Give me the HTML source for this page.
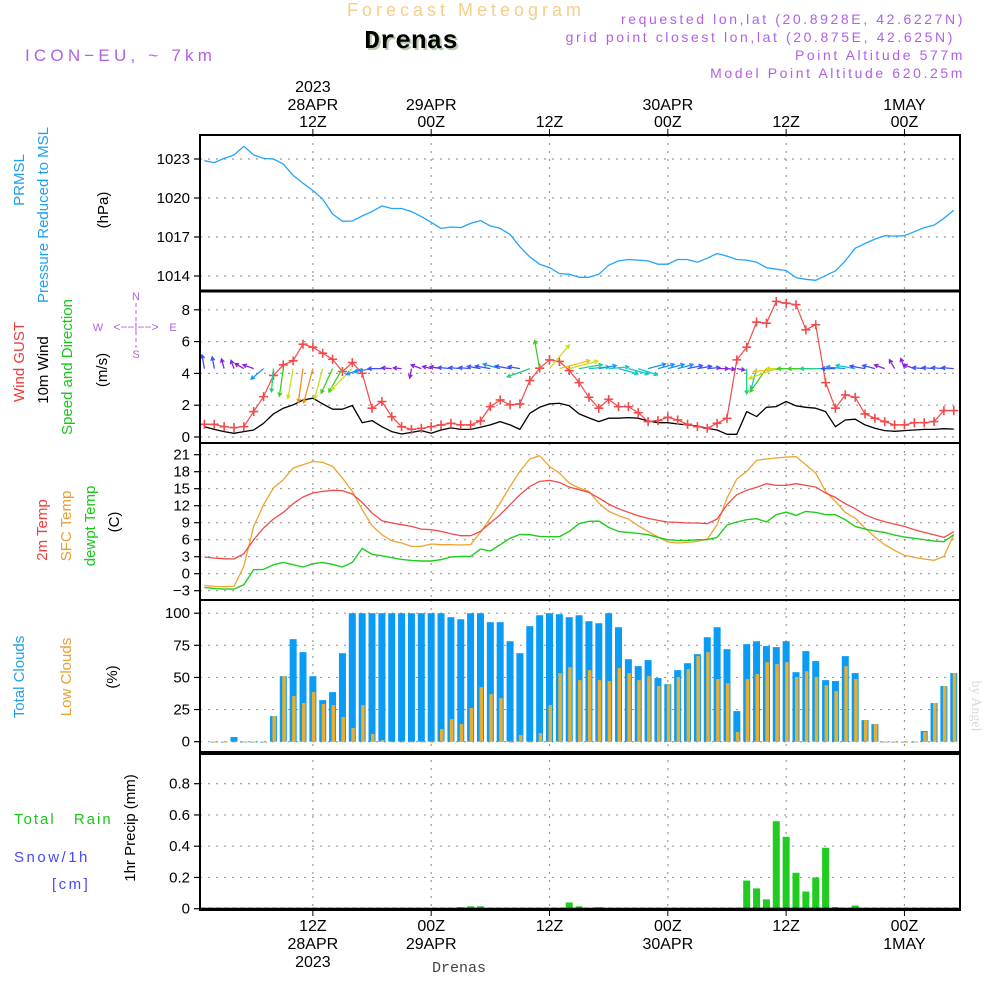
<!DOCTYPE html>
<html><head><meta charset="utf-8"><style>
html,body{margin:0;padding:0;background:#fff;}
svg{display:block;font-family:"Liberation Sans",sans-serif;}
</style></head><body>
<svg id="chart" width="1000" height="1000" viewBox="0 0 1000 1000" xmlns="http://www.w3.org/2000/svg">
<rect x="0" y="0" width="1000" height="1000" fill="#fff"/>
<g id="header">
<text x="466" y="16" text-anchor="middle" font-size="18" fill="#f3cf8a" letter-spacing="4">Forecast Meteogram</text>
<text x="411" y="48" text-anchor="middle" font-size="26" font-weight="bold" font-family="Liberation Mono,monospace" fill="#b8ccb0" transform="translate(2,2)">Drenas</text>
<text x="411" y="48" text-anchor="middle" font-size="26" font-weight="bold" font-family="Liberation Mono,monospace" fill="#000">Drenas</text>
<text x="25" y="61" font-size="17" fill="#b060e8" letter-spacing="4.2">ICON−EU, ~ 7km</text>
<g font-size="14" fill="#b060e8" text-anchor="end" letter-spacing="2.6">
<text x="965" y="24">requested lon,lat (20.8928E, 42.6227N)</text>
<text x="955" y="42">grid point closest lon,lat (20.875E, 42.625N)</text>
<text x="965" y="60">Point Altitude 577m</text>
<text x="965" y="78">Model Point Altitude 620.25m</text>
</g>
</g>
<g id="grid"></g>
<g id="marks"></g>
<g id="frames"></g>
<g id="labels" font-size="15">
<text transform="translate(24,180) rotate(-90)" text-anchor="middle" fill="#1ea0f0">PRMSL</text>
<text transform="translate(48,215) rotate(-90)" text-anchor="middle" fill="#1ea0f0">Pressure Reduced to MSL</text>
<text transform="translate(108,210) rotate(-90)" text-anchor="middle" fill="#000">(hPa)</text>
<text transform="translate(24,362) rotate(-90)" text-anchor="middle" fill="#f03c3c">Wind GUST</text>
<text transform="translate(48,370) rotate(-90)" text-anchor="middle" fill="#000">10m Wind</text>
<text transform="translate(72,367) rotate(-90)" text-anchor="middle" fill="#18c818">Speed and Direction</text>
<text transform="translate(107,370) rotate(-90)" text-anchor="middle" fill="#000">(m/s)</text>
<g fill="#b060e8" font-size="11" text-anchor="middle">
<text x="136" y="300">N</text><text x="98" y="331">W</text><text x="173" y="331">E</text><text x="136" y="358">S</text>
<text x="136" y="331" font-size="12">&lt;−−|−−&gt;</text>
<line x1="136" y1="303" x2="136" y2="348" stroke="#b060e8" stroke-dasharray="4,3"/>
</g>
<text transform="translate(47,530) rotate(-90)" text-anchor="middle" fill="#f03c3c">2m Temp</text>
<text transform="translate(71,526) rotate(-90)" text-anchor="middle" fill="#e8a030">SFC Temp</text>
<text transform="translate(95,526) rotate(-90)" text-anchor="middle" fill="#18c818">dewpt Temp</text>
<text transform="translate(119,522) rotate(-90)" text-anchor="middle" fill="#000">(C)</text>
<text transform="translate(24,677) rotate(-90)" text-anchor="middle" fill="#1ea0f0">Total Clouds</text>
<text transform="translate(71,677) rotate(-90)" text-anchor="middle" fill="#e8a030">Low Clouds</text>
<text transform="translate(117,677) rotate(-90)" text-anchor="middle" fill="#000">(%)</text>
<text x="14" y="824" fill="#18c818" letter-spacing="2" word-spacing="12">Total Rain</text>
<text x="14" y="862" fill="#4848ff" letter-spacing="2.5">Snow/1h</text>
<text x="52" y="889" fill="#4848ff" letter-spacing="2.5">[cm]</text>
<text transform="translate(135,828) rotate(-90)" text-anchor="middle" fill="#000">1hr Precip (mm)</text>
<text transform="translate(972,706) rotate(90)" text-anchor="middle" fill="#d8d8d8" font-family="Liberation Serif,serif" font-size="14">by Angel</text>
<text x="459" y="972" text-anchor="middle" fill="#444" font-family="Liberation Mono,monospace" font-size="15">Drenas</text>
</g>
</svg>
<script>
// ---- data (hourly, index 0 = 01Z 28APR 2023) ----
const timeTicks = [11, 23, 35, 47, 59, 71];
const topDate = ["28APR", "29APR", "", "30APR", "", "1MAY"];
const topHour = ["12Z", "00Z", "12Z", "00Z", "12Z", "00Z"];
const pressureTicks = [1014, 1017, 1020, 1023];
const windTicks = [0, 2, 4, 6, 8];
const tempTicks = [-3, 0, 3, 6, 9, 12, 15, 18, 21];
const cloudTicks = [0, 25, 50, 75, 100];
const precipTicks = [0, 0.2, 0.4, 0.6, 0.8];
const pressure = [1022.87,1022.72,1023.05,1023.31,1023.98,1023.31,1023.05,1023.0,1022.61,1021.74,1021.14,1020.58,1019.91,1018.77,1018.21,1018.23,1018.62,1018.95,1019.39,1019.19,1019.19,1018.95,1018.57,1018.13,1017.66,1017.77,1017.72,1018.05,1018.26,1017.85,1017.66,1017.2,1016.25,1015.47,1014.91,1014.65,1014.19,1014.13,1013.9,1013.9,1014.13,1014.83,1015.16,1015.27,1015.22,1015.16,1014.91,1014.91,1015.27,1015.27,1015.06,1015.37,1015.73,1015.53,1015.27,1015.22,1015.06,1014.65,1014.52,1014.42,1013.88,1013.75,1013.67,1014.03,1014.39,1015.16,1016.14,1016.5,1016.84,1017.1,1017.07,1017.1,1017.41,1017.72,1017.9,1018.44,1019.06];
const gust = [0.8,0.8,0.65,0.59,0.65,1.6,2.54,3.87,4.54,4.79,5.84,5.65,5.27,4.89,4.12,4.68,4.01,1.81,2.23,1.28,0.65,0.48,0.55,0.65,0.76,0.86,0.76,0.76,1.01,1.91,2.33,2.02,2.08,3.55,4.33,4.85,4.75,4.18,3.42,2.5,1.81,2.37,1.91,1.91,1.53,0.97,1.03,1.24,1.07,0.8,0.65,0.55,0.86,1.18,4.85,5.65,7.23,7.16,8.53,8.42,8.32,6.74,7.06,3.42,1.81,2.65,2.5,1.45,1.18,0.97,0.76,0.76,0.9,0.9,0.97,1.66,1.66];
const wind10 = [0.65,0.48,0.34,0.23,0.34,0.44,0.86,1.45,1.81,2.02,2.33,2.44,2.08,1.75,1.75,1.98,0.90,1.03,0.65,0.34,0.19,0.29,0.40,0.23,0.44,0.57,0.48,0.48,0.61,0.76,0.97,0.76,0.48,1.49,1.87,2.08,2.12,1.96,1.45,1.20,0.97,1.18,1.18,1.22,1.18,1.01,0.90,0.90,0.82,0.76,0.69,0.55,0.44,0.17,0.17,1.60,1.28,1.87,1.91,2.23,1.96,1.87,1.81,1.60,0.65,1.07,1.12,0.76,0.55,0.40,0.36,0.40,0.44,0.48,0.48,0.52,0.50];
const windDir = [100,100,105,110,150,160,220,265,262,260,262,255,255,245,240,225,200,190,180,175,175,260,160,165,170,175,175,175,170,170,165,170,170,200,100,50,15,15,10,5,10,5,-15,-15,-18,15,15,15,15,12,10,5,0,-5,-10,270,255,235,200,185,180,180,180,180,180,175,170,170,165,160,120,110,160,175,175,175,175];
const temp2m = [2.94,2.76,2.65,2.59,3.53,6.0,8.06,9.65,10.82,12.35,13.53,14.24,14.53,14.71,14.65,14.06,12.59,10.71,9.35,8.94,8.65,8.35,7.88,7.76,7.47,7.06,6.71,6.71,7.47,8.94,10.41,12.18,13.94,15.41,16.29,16.47,16.12,15.29,14.82,14.35,13.35,12.29,11.47,10.82,10.24,9.76,9.41,9.12,9.06,8.94,8.94,8.82,9.65,12.18,13.94,14.71,15.24,15.88,15.59,15.59,15.88,15.59,15.29,14.24,13.47,12.35,11.47,10.41,9.71,9.18,8.76,8.35,7.76,7.29,6.88,6.41,7.41];
const tempSfc = [-2.06,-2.24,-2.29,-2.24,1.29,8.35,12.18,15.12,16.59,18.65,19.24,19.82,19.65,18.94,16.88,14.53,11.29,8.47,6.88,5.82,5.41,4.82,4.82,5.24,5.12,5.12,5.06,5.12,7.29,9.82,12.47,15.41,18.06,20.24,20.82,18.94,17.76,16.0,15.12,14.53,12.47,11.0,10.24,9.65,8.47,7.47,6.47,5.59,5.41,5.53,5.71,6.12,8.65,13.35,16.71,18.06,20.0,20.24,20.41,20.59,20.65,19.24,17.76,14.53,12.76,10.82,9.82,8.06,6.47,5.12,4.12,3.24,2.88,2.59,2.35,3.06,6.88];
const dewpt = [-2.41,-2.59,-2.71,-2.71,-1.94,0.71,0.76,1.59,2.0,1.59,1.18,1.76,2.0,1.65,1.18,2.0,4.47,3.41,3.18,2.82,2.53,2.35,2.24,2.24,2.47,2.94,3.06,3.06,4.35,4.0,5.12,6.24,6.94,6.88,6.59,6.53,6.53,7.47,8.82,9.24,9.29,8.18,7.47,7.29,7.12,6.88,6.41,6.0,5.88,5.88,6.0,6.0,6.41,8.59,9.12,9.53,9.71,9.12,10.41,10.88,10.29,11.0,10.82,10.41,10.41,9.53,8.35,7.88,7.53,7.29,6.82,6.47,6.24,6.0,5.76,5.65,6.88];
// cloud and precip values for index 1..76
const totalClouds = [0,0,3.6,0,0,0,19.9,51,79.8,69.7,51,32.4,38.6,68.9,100,100,100,100,100,100,100,100,100,100,96.9,95.3,100,100,93,93,78.2,68.9,89.9,98.4,100,99.2,96.9,98.4,93.8,92.2,100,89.1,64.2,58.8,63.5,49.5,44.8,55.7,61.1,68.1,81.3,89.1,72,23.8,75.9,78.2,74.4,73.6,78.2,54.1,70.5,62.7,47.9,47.2,66.6,53.4,16.8,13.7,0,0,0,0,8.3,30.1,43.3,53.4];
const lowClouds = [0,0,0,0,0,0,19.9,51,35.5,30.1,38.6,29.3,28.5,19.2,10.6,28.5,6,1.3,0,0,0,0,0,9.8,17.6,13.7,26.2,42.5,37,33.9,0,5.2,0,6.7,28.5,53.4,58,47.9,55.7,47.9,47.2,57.3,53.4,47.9,51,43.3,44.8,50.3,56.5,66.6,69.7,48.7,45.6,7.5,48.7,52.6,61.9,60.4,61.9,50.3,54.9,50.3,44,39.4,58.8,48.7,16.8,13.7,0,0,0,0,7.5,30.1,43.3,53.4];
const precip = [0,0,0,0,0,0,0,0,0,0,0,0,0,0,0,0,0,0,0,0,0,0,0,0,0,0.01,0.015,0.015,0.003,0,0,0,0,0,0,0,0.04,0.015,0,0.01,0,0.003,0,0,0,0,0,0,0,0,0,0,0,0,0.18,0.13,0.06,0.56,0.46,0.23,0.11,0.2,0.39,0.01,0,0.02,0,0,0,0,0,0,0,0,0,0];

// ---- axes ----
const L = 200, R = 960;
function xAt(i){ return 204.4 + i * 9.86; }
function yP(v){ return 159 + (1023 - v) * 13; }
function yW(v){ return 437 - v * 15.9; }
function yT(v){ return 454.7 + (21 - v) * 5.667; }
function yC(v){ return 741.7 - v * 1.285; }
function yR(v){ return 908.7 - v * 156.25; }
const NS = "http://www.w3.org/2000/svg";
function mk(parent, tag, attrs){ const e = document.createElementNS(NS, tag); for (const k in attrs) e.setAttribute(k, attrs[k]); parent.appendChild(e); return e; }
const grid = document.getElementById('grid');
const marks = document.getElementById('marks');
const frames = document.getElementById('frames');
const panels = [[135,291,pressureTicks,yP,v=>String(v)],[291,443,windTicks,yW,v=>String(v)],[443,600,tempTicks,yT,v=>v<0?"−"+(-v):String(v)],[600,752,cloudTicks,yC,v=>String(v)],[752,910,precipTicks,yR,v=>v===0?"0":v.toFixed(1)]];
panels.forEach(function(p, pi){
  timeTicks.forEach(function(t){
    const gl = mk(grid, 'line', {x1:xAt(t), x2:xAt(t), y1:p[0], y2:p[1], stroke:'#9a9a9a', 'stroke-dasharray':'2,6', 'stroke-width':1.2});
    
    
  });
  p[2].forEach(function(v){
    const y = p[3](v);
    const hl = mk(grid, 'line', {x1:L, x2:R, y1:y, y2:y, stroke:'#9a9a9a', 'stroke-dasharray':'2,6', 'stroke-width':1.2});
    
    
    mk(frames, 'line', {x1:194, x2:L, y1:y, y2:y, stroke:'#000', 'stroke-width':1.2});
    const tx = mk(frames, 'text', {x:190, y:y+5, 'text-anchor':'end', 'font-size':15, fill:'#000'});
    tx.textContent = p[4](v);
    
    
  });
  const fr = mk(frames, 'rect', {x:L, y:p[0], width:R-L, height:p[1]-p[0], fill:'none', stroke:'#000', 'stroke-width':2});
  
  
});
mk(frames, 'line', {x1:L, x2:R, y1:291, y2:291, stroke:'#000', 'stroke-width':3});
mk(frames, 'line', {x1:L, x2:R, y1:753, y2:753, stroke:'#000', 'stroke-width':4});
mk(frames, 'line', {x1:L, x2:R, y1:909, y2:909, stroke:'#000', 'stroke-width':2.5});
// time axis labels
timeTicks.forEach(function(t, k){
  const x = xAt(t);
  mk(frames, 'line', {x1:x, x2:x, y1:129, y2:135, stroke:'#000'});
  mk(frames, 'line', {x1:x, x2:x, y1:910, y2:916, stroke:'#000'});
  const a = mk(frames, 'text', {x:x, y:127, 'text-anchor':'middle', 'font-size':16, fill:'#000'}); a.textContent = topHour[k];
  
  
  if (topDate[k]) { const b = mk(frames, 'text', {x:x, y:110, 'text-anchor':'middle', 'font-size':16, fill:'#000'}); b.textContent = topDate[k];
    
     }
  const c = mk(frames, 'text', {x:x, y:931, 'text-anchor':'middle', 'font-size':16, fill:'#000'}); c.textContent = topHour[k];
  
  
  if (topDate[k]) { const d = mk(frames, 'text', {x:x, y:949, 'text-anchor':'middle', 'font-size':16, fill:'#000'}); d.textContent = topDate[k];
    
     }
});
const y1 = mk(frames, 'text', {x:xAt(11), y:92, 'text-anchor':'middle', 'font-size':16, fill:'#000'}); y1.textContent = '2023';


const y2 = mk(frames, 'text', {x:xAt(11), y:967, 'text-anchor':'middle', 'font-size':16, fill:'#000'}); y2.textContent = '2023';



function line(arr, yf, color, name, w){
  const pts = arr.map((v,i)=>xAt(i).toFixed(1)+','+yf(v).toFixed(1)).join(' ');
  const pl = mk(marks, 'polyline', {points:pts, fill:'none', stroke:color, 'stroke-width':w||1.3, 'stroke-linejoin':'round'});
  
  
}
// clouds
totalClouds.forEach(function(v, k){
  const i = k + 1, x = xAt(i);
  const b = mk(marks, 'rect', {x:x-3.5, y:yC(v), width:7, height:Math.max(0.8, yC(0)-yC(v)), fill:'#0a9cf5'});
  
  
  const lv = lowClouds[k];
  const o = mk(marks, 'rect', {x:x-1, y:yC(lv), width:3.5, height:Math.max(0.8, yC(0)-yC(lv)), fill:'#e8ae30'});
  
  
});
// precip
precip.forEach(function(v, k){
  const i = k + 1;
  if (v <= 0) return;
  const b = mk(marks, 'rect', {x:xAt(i)-3.5, y:yR(v), width:7, height:yR(0)-yR(v), fill:'#20cc20'});
  
  
});
mk(marks, 'line', {x1:L, x2:R, y1:yR(0)-0.5, y2:yR(0)-0.5, stroke:'#000', 'stroke-dasharray':'5,3', 'stroke-width':1});
// pressure
line(pressure, yP, '#22a4ff', 'pressure-line', 1.3);
// temps
line(tempSfc, yT, '#eca430', 'sfc-temp-line', 1.3);
line(temp2m, yT, '#f24a4a', 'temp2m-line', 1.3);
line(dewpt, yT, '#20cc20', 'dewpt-line', 1.4);
// wind
line(wind10, yW, '#000', 'wind10-line', 1.3);
line(gust, yW, '#f24a4a', 'gust-line', 1.2);
gust.forEach(function(v, i){
  const x = xAt(i), y = yW(v);
  const p = mk(marks, 'path', {d:'M'+(x-4.5)+' '+y+'H'+(x+4.5)+'M'+x+' '+(y-4.5)+'V'+(y+4.5), stroke:'#f24a4a', 'stroke-width':1.6});
  
  
});
function windColor(s){
  if (s < 0.45) return '#8a20e0';
  if (s < 0.8) return '#3c50ff';
  if (s < 1.1) return '#1890ff';
  if (s < 1.4) return '#10c8c8';
  if (s < 1.7) return '#20d080';
  if (s < 1.9) return '#40cc20';
  if (s < 2.1) return '#c8e020';
  if (s < 2.3) return '#f0c020';
  return '#f09020';
}
windDir.forEach(function(d, i){
  const s = wind10[i];
  const len = 6 + s * 12;
  const x0 = xAt(i), y0 = yW(4.3);
  const a = d * Math.PI / 180;
  const x1 = x0 + Math.cos(a) * len, y1 = y0 - Math.sin(a) * len;
  const h = 4, ha = 0.5;
  const hx1 = x1 - Math.cos(a - ha) * h, hy1 = y1 + Math.sin(a - ha) * h;
  const hx2 = x1 - Math.cos(a + ha) * h, hy2 = y1 + Math.sin(a + ha) * h;
  const p = mk(marks, 'path', {d:'M'+x0.toFixed(1)+' '+y0.toFixed(1)+'L'+x1.toFixed(1)+' '+y1.toFixed(1)+'M'+hx1.toFixed(1)+' '+hy1.toFixed(1)+'L'+x1.toFixed(1)+' '+y1.toFixed(1)+'L'+hx2.toFixed(1)+' '+hy2.toFixed(1), stroke:windColor(s), 'stroke-width':1.3, fill:'none'});
  
  
});
</script>
</body></html>
